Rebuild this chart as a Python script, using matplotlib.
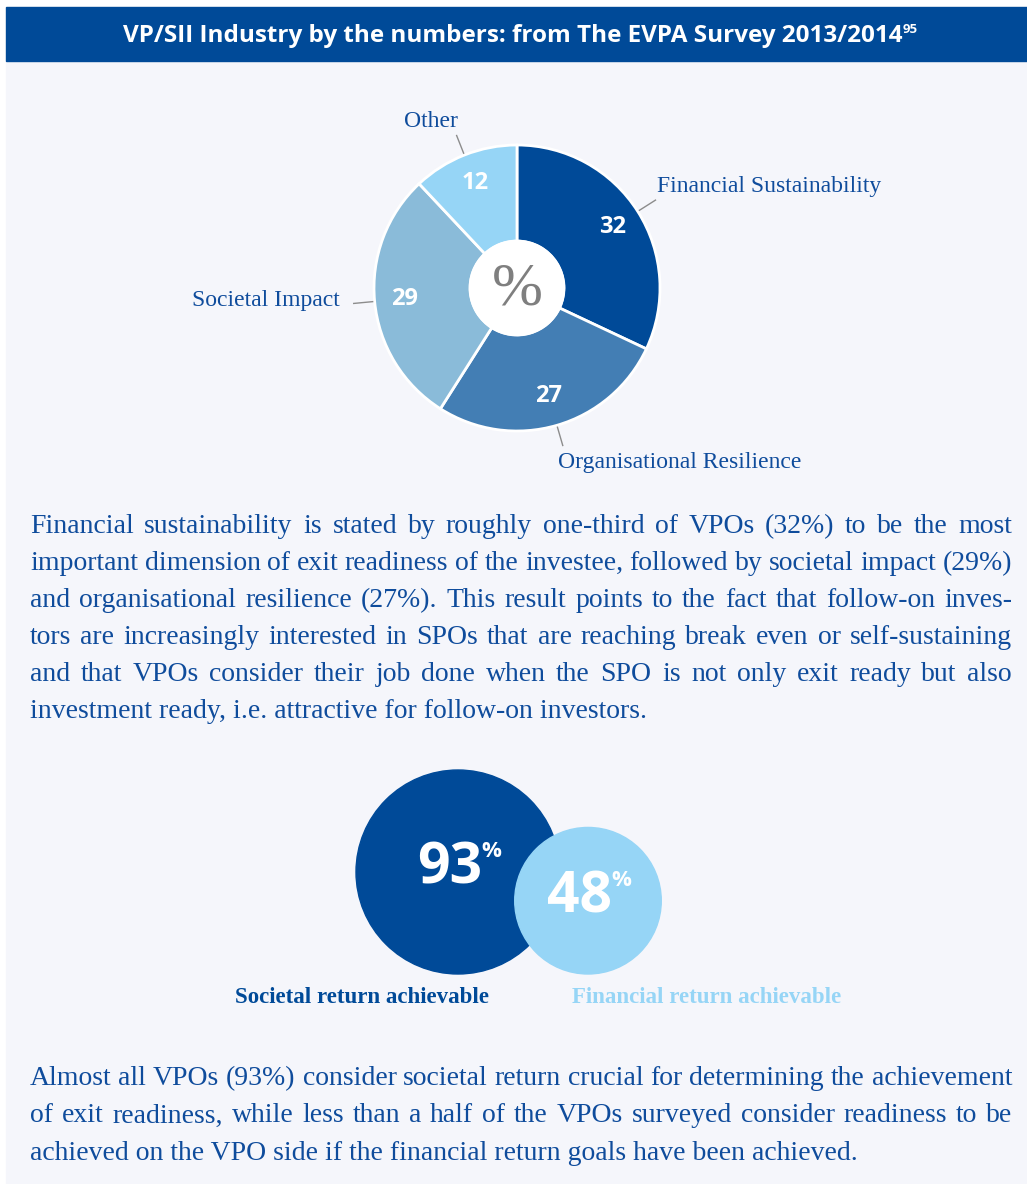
import matplotlib.pyplot as plt
from matplotlib.patches import Circle, Rectangle
import numpy as np

W, H = 1027, 1184

# donut chart
pie_labels = ['Financial Sustainability', 'Organisational Resilience', 'Societal Impact', 'Other']
pie_values = [32, 27, 29, 12]
pie_colors = ['#004a98', '#437eb4', '#8abbd9', '#96d5f6']

# bubbles
bubble_values = [93, 48]
bubble_labels = ['Societal return achievable', 'Financial return achievable']
bubble_colors = ['#004a98', '#96d5f6']

title = 'VP/SII Industry by the numbers: from The EVPA Survey 2013/2014'
title_note = '95'

para1 = [
    'Financial sustainability is stated by roughly one-third of VPOs (32%) to be the most',
    'important dimension of exit readiness of the investee, followed by societal impact (29%)',
    'and organisational resilience (27%). This result points to the fact that follow-on inves-',
    'tors are increasingly interested in SPOs that are reaching break even or self-sustaining',
    'and that VPOs consider their job done when the SPO is not only exit ready but also',
    'investment ready, i.e. attractive for follow-on investors.',
]
para2 = [
    'Almost all VPOs (93%) consider societal return crucial for determining the achievement',
    'of exit readiness, while less than a half of the VPOs surveyed consider readiness to be',
    'achieved on the VPO side if the financial return goals have been achieved.',
]

BLUE = '#0f4c9c'
SERIF = 'Liberation Serif'
SANS = 'Open Sans'


def Y(y):
    # picture rows -> data y (y up)
    return H - y


fig = plt.figure(figsize=(W / 100, H / 100), dpi=100, facecolor='white')
ax = fig.add_axes([0, 0, 1, 1])

# background panel and header band
ax.add_patch(Rectangle((6, 0), W - 6, Y(61), color='#f5f6fb', zorder=0))
ax.add_patch(Rectangle((6, Y(61)), W - 6, 54, color='#004a98', zorder=0))
t = ax.text(513, Y(42), title, ha='center', va='baseline', color='white',
            fontsize=17.5, fontweight='bold', family=SANS)
ax.annotate(title_note, xy=(1, 1), xycoords=t, xytext=(0, 1), textcoords='offset points',
            ha='left', va='top', color='white', fontsize=9.5, fontweight='bold', family=SANS)

# donut
cx, cy = 517, Y(288)
wedges, texts, autotexts = ax.pie(
    pie_values, colors=pie_colors, startangle=90, counterclock=False,
    center=(cx, cy), radius=143, autopct='%.0f', pctdistance=0.79,
    wedgeprops=dict(width=96, edgecolor='white', linewidth=2),
    textprops=dict(color='white', fontsize=17, fontweight='bold', family=SANS))
ax.add_patch(Circle((cx, cy), 47.5, color='white', zorder=3))
ax.text(cx, cy - 2, '%', ha='center', va='center', color='#7f7f7f',
        fontsize=44, family=SERIF, zorder=4)

for w in wedges:
    a = np.deg2rad((w.theta1 + w.theta2) / 2)
    ax.plot([cx + 145 * np.cos(a), cx + 164 * np.cos(a)],
            [cy + 145 * np.sin(a), cy + 164 * np.sin(a)], color='#8c8c8c', lw=1)

label_pos = [(657, 192, 'left'), (558, 468, 'left'), (340, 306, 'right'), (431, 127, 'center')]
for lab, (x, y, ha) in zip(pie_labels, label_pos):
    ax.text(x, Y(y), lab, ha=ha, va='baseline', color=BLUE, fontsize=17, family=SERIF)

# bubbles, area proportional to value, bottom aligned
rmax = 102
bottom = 974
bub_x = [458, 588]
bub_lab_x = [362, 707]
for i, (v, lab, c) in enumerate(zip(bubble_values, bubble_labels, bubble_colors)):
    r = rmax * np.sqrt(v / max(bubble_values))
    by = Y(bottom - r)
    ax.add_patch(Circle((bub_x[i], by), r, color=c, zorder=2 + i))
    nt = ax.text(bub_x[i] - 8, by + 3, str(v), ha='center', va='center', color='white',
                 fontsize=41, fontweight='bold', family=SANS, zorder=5)
    ax.annotate('%', xy=(1, 1), xycoords=nt, xytext=(-1, -1), textcoords='offset points',
                ha='left', va='top', color='white', fontsize=16, fontweight='bold',
                family=SANS, zorder=5)
    ax.text(bub_lab_x[i], Y(1003), lab, ha='center', va='baseline', color=c,
            fontsize=16.5, fontweight='bold', family=SERIF)


def justify(lines, x0, x1, y0, step, **kw):
    r = fig.canvas.get_renderer()
    for i, line in enumerate(lines):
        y = Y(y0 + i * step)
        if i == len(lines) - 1:
            ax.text(x0, y, line, ha='left', va='baseline', **kw)
            continue
        words = line.split()
        ts = [ax.text(0, y, w, ha='left', va='baseline', **kw) for w in words]
        widths = [tt.get_window_extent(r).width for tt in ts]
        gap = (x1 - x0 - sum(widths)) / (len(words) - 1)
        x = x0
        for tt, wd in zip(ts, widths):
            tt.set_x(x)
            x += wd + gap


body = dict(color=BLUE, fontsize=20, family=SERIF)
justify(para1, 30, 1012, 533, 37, **body)
justify(para2, 30, 1012, 1085, 37.5, **body)

ax.set_xlim(0, W)
ax.set_ylim(0, H)
ax.set_aspect('auto')
ax.axis('off')
fig.savefig('out.png', dpi=100, facecolor='white')
